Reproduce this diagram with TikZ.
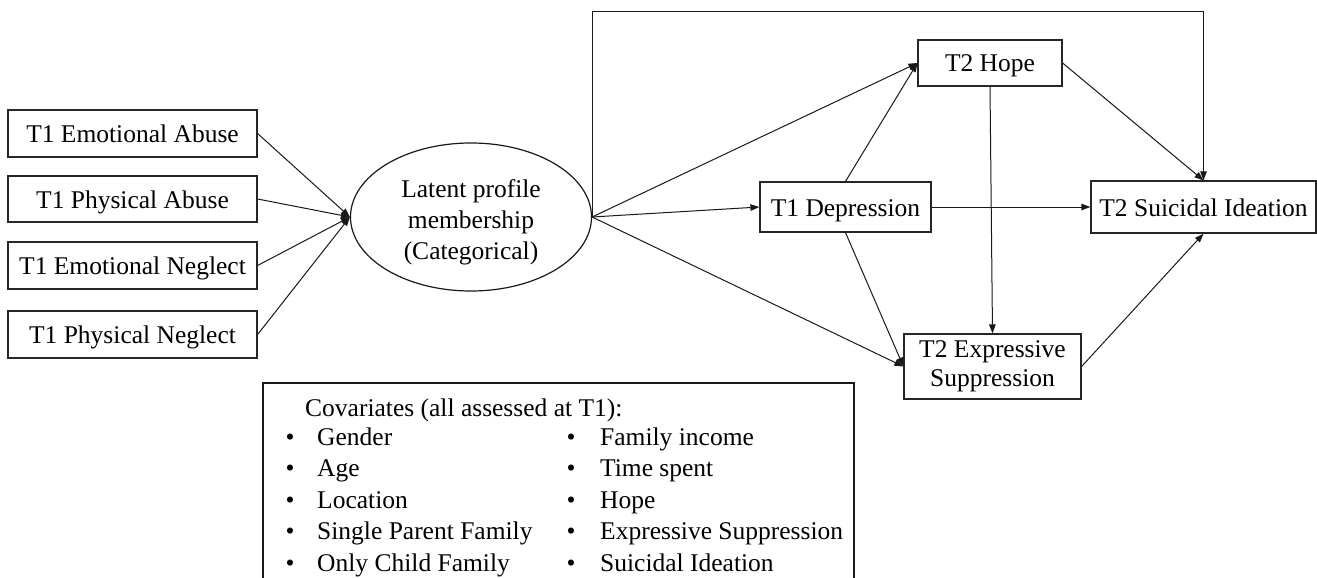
\documentclass[tikz,border=0pt]{standalone}
\usepackage{fontspec}
\setmainfont{Liberation Serif}
\usetikzlibrary{arrows.meta,shapes.geometric}
\tikzset{
  box/.style={draw=black!85, line width=1.2pt, inner sep=0pt, align=center, font=\fontsize{25.5}{29}\selectfont},
  onebox/.style={box, text height=19pt, text depth=1pt},
  conn/.style={draw=black!90, line width=1pt, -{Triangle[length=9pt,width=6.5pt]}},
  plain/.style={draw=black!90, line width=1pt},
  txt/.style={inner sep=0pt, anchor=base west, font=\fontsize{25.5}{30}\selectfont},
  bul/.style={inner sep=0pt, anchor=base, font=\fontsize{25.5}{30}\selectfont}
}
\begin{document}
\begin{tikzpicture}[x=1pt,y=-1pt]
\useasboundingbox (0,0) rectangle (1317,578);
% left boxes
\node[onebox, minimum width=249pt, minimum height=47pt] (ea) at (132.5,133.5) {T1 Emotional Abuse};
\node[onebox, minimum width=249pt, minimum height=46pt] (pa) at (132.5,199) {T1 Physical Abuse};
\node[onebox, minimum width=249pt, minimum height=47pt] (en) at (132.5,265.5) {T1 Emotional Neglect};
\node[onebox, minimum width=249pt, minimum height=47pt] (pn) at (132.5,334.5) {T1 Physical Neglect};
% ellipse
\node[ellipse, draw=black!90, line width=1.2pt, minimum width=241pt, minimum height=148pt, inner sep=0pt, align=center, font=\fontsize{25.5}{30}\selectfont] (lp) at (471,217) {\rule{0pt}{28pt}Latent profile\\[1pt]membership\\[1pt](Categorical)};
% right boxes
\node[onebox, minimum width=144pt, minimum height=46pt] (hope) at (990,63) {T2 Hope};
\node[onebox, minimum width=171pt, minimum height=50pt] (dep) at (845.5,207) {T1 Depression};
\node[onebox, minimum width=225pt, minimum height=52pt] (si) at (1203.5,207) {T2 Suicidal Ideation};
\node[box, minimum width=177pt, minimum height=65pt] (es) at (992.5,366.5) {T2 Expressive\\Suppression};
% connectors
\draw[conn] (ea.east) -- (lp.west);
\draw[conn] (pa.east) -- (lp.west);
\draw[conn] (en.east) -- (lp.west);
\draw[conn] (pn.east) -- (lp.west);
\draw[conn] (lp.east) -- (hope.west);
\draw[conn] (lp.east) -- (dep.west);
\draw[conn] (lp.east) -- (es.west);
\draw[conn] (dep.north) -- (hope.west);
\draw[conn] (dep.south) -- (es.west);
\draw[conn] (dep.east) -- (si.west);
\draw[conn] (hope.south) -- (es.north);
\draw[conn] (hope.east) -- (si.north);
\draw[conn] (es.east) -- (si.south);
\coordinate (tl) at (lp.east |- 0,12);
\coordinate (tr) at (si.north |- 0,12);
\draw[conn] (lp.east) -- (tl) -- (tr) -- (si.north);
% covariates box (open at bottom)
\coordinate (cbl) at (263,578);
\coordinate (ctl) at (263,383);
\coordinate (ctr) at (854,383);
\coordinate (cbr) at (854,578);
\draw[plain, line width=1.2pt] (cbl) -- (ctl) -- (ctr) -- (cbr);
\node[txt] (ctitle) at (305,416) {Covariates (all assessed at T1):};
\foreach \i/\a/\b in {0/Gender/Family income, 1/Age/Time spent, 2/Location/Hope, 3/Single Parent Family/Expressive Suppression, 4/Only Child Family/Suicidal Ideation}{
  \node[bul] (bl\i) at (290,{445+31.5*\i}) {\textbullet};
  \node[txt] (tl\i) at (317,{445+31.5*\i}) {\a};
  \node[bul] (br\i) at (571,{445+31.5*\i}) {\textbullet};
  \node[txt] (tr\i) at (600,{445+31.5*\i}) {\b};
}
\end{tikzpicture}
\end{document}
